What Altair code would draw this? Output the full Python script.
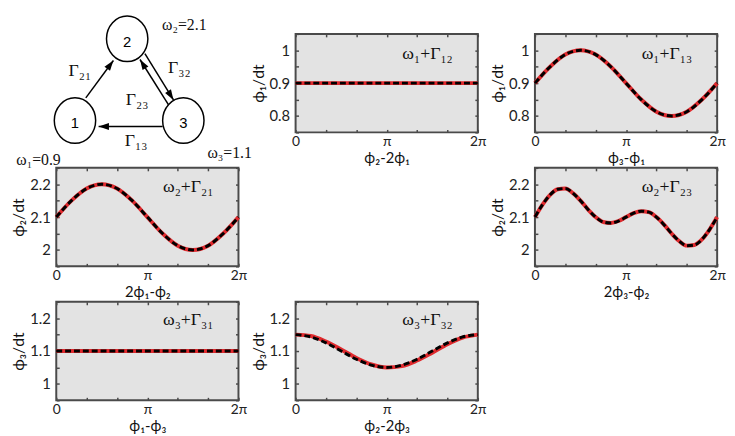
import math
import altair as alt
import pandas as pd

PI = math.pi

# ---------------- data ----------------
x2 = [0.0, 2 * PI]
x13 = [k * PI / 6 for k in range(13)]
x25 = [k * PI / 12 for k in range(25)]

a_red = [0.90, 0.90]
a_blk = [0.90, 0.90]
b_red = [0.900, 0.950, 0.987, 1.000, 0.987, 0.950, 0.900, 0.850, 0.813, 0.800, 0.813, 0.850, 0.900]
b_blk = [0.900, 0.950, 0.987, 1.000, 0.987, 0.950, 0.900, 0.850, 0.813, 0.800, 0.813, 0.850, 0.900]
c_red = [2.100, 2.150, 2.187, 2.200, 2.187, 2.150, 2.100, 2.050, 2.013, 2.000, 2.013, 2.050, 2.100]
c_blk = [2.100, 2.150, 2.187, 2.200, 2.187, 2.150, 2.100, 2.050, 2.013, 2.000, 2.013, 2.050, 2.100]
d_red = [2.100, 2.138, 2.168, 2.185, 2.187, 2.173, 2.150, 2.123, 2.100, 2.085, 2.082, 2.088, 2.100,
         2.112, 2.118, 2.115, 2.100, 2.077, 2.050, 2.027, 2.013, 2.015, 2.032, 2.062, 2.100]
d_blk = [2.100, 2.138, 2.168, 2.185, 2.187, 2.173, 2.150, 2.123, 2.100, 2.085, 2.082, 2.088, 2.100,
         2.112, 2.118, 2.115, 2.100, 2.077, 2.050, 2.027, 2.013, 2.015, 2.032, 2.062, 2.100]
e_red = [1.10, 1.10]
e_blk = [1.10, 1.10]
f_red = [1.150, 1.146, 1.129, 1.105, 1.079, 1.059, 1.050, 1.054, 1.071, 1.095, 1.121, 1.141, 1.150]
f_blk = [1.150, 1.143, 1.125, 1.100, 1.075, 1.057, 1.050, 1.057, 1.075, 1.100, 1.125, 1.143, 1.150]

notes = ["ω₁+Γ₁₂", "ω₁+Γ₁₃", "ω₂+Γ₂₁", "ω₂+Γ₂₃", "ω₃+Γ₃₁", "ω₃+Γ₃₂"]
note_y = [0.988, 0.988, 2.192, 2.190, 1.194, 1.194]
y_titles = ["ϕ₁/dt", "ϕ₁/dt", "ϕ₂/dt", "ϕ₂/dt", "ϕ₃/dt", "ϕ₃/dt"]
x_titles = ["ϕ₂-2ϕ₁", "ϕ₃-ϕ₁", "2ϕ₁-ϕ₂", "2ϕ₃-ϕ₂", "ϕ₁-ϕ₃", "ϕ₂-2ϕ₃"]
y_domains = [[0.75, 1.05], [0.75, 1.05], [1.95, 2.25], [1.95, 2.25], [0.95, 1.25], [0.95, 1.25]]

# network diagram (positions in picture pixels)
node_labels = ["1", "2", "3"]
node_x = [72, 125, 182]
node_y = [110, 27, 110]

arrow_x1 = [83, 143, 167, 161]
arrow_y1 = [87, 42, 94, 116]
arrow_x2 = [111, 172, 138, 96]
arrow_y2 = [49, 89, 48, 116]

gamma_labels = ["Γ₂₁", "Γ₃₂", "Γ₂₃", "Γ₁₃"]
gamma_x = [77, 178, 135, 134]
gamma_y = [60, 57, 89, 131]

omega_labels = ["ω₂=2.1", "ω₁=0.9", "ω₃=1.1"]
omega_x = [183, 35, 229]
omega_y = [13, 150, 143]

# ---------------- style ----------------
W, H = 185, 100
FRAME = "#4a4a4a"
BG = "#e3e3e3"
RED = "#e02a2e"
SANS = "Lato"
SERIF = "Liberation Serif"

XT = [k * PI / 3 for k in range(7)]
XLAB = ("abs(datum.value) < 0.01 ? '0' : abs(datum.value - PI) < 0.01 ? 'π' : "
        "abs(datum.value - 2 * PI) < 0.01 ? '2π' : ''")
YLAB = "abs(datum.value * 10 - round(datum.value * 10)) < 0.001 ? format(datum.value, '.1~f') : ''"

common = dict(offset=-3, tickSize=3, tickColor=FRAME, tickWidth=1.5, domain=False, grid=False,
              labelOverlap=False)


def ytick_values(dom):
    n = int(round((dom[1] - dom[0]) / 0.05))
    return [round(dom[0] + 0.05 * i, 2) for i in range(n + 1)]


def panel(i, xs_red, red, xs_blk, blk):
    xsc = alt.Scale(domain=[0, 2 * PI], nice=False, zero=False)
    ysc = alt.Scale(domain=y_domains[i], nice=False, zero=False)
    yv = ytick_values(y_domains[i])
    bottom = alt.Axis(orient="bottom", values=XT, labelExpr=XLAB, title=x_titles[i],
                      labelFont=SANS, labelFontSize=14, labelColor="#222", labelPadding=2,
                      labelFlush=False, titleFont=SANS, titleFontSize=15, titleFontWeight="normal",
                      titleColor="#111", titlePadding=3, **common)
    left = alt.Axis(orient="left", values=yv, labelExpr=YLAB, title=y_titles[i],
                    labelFont=SANS, labelFontSize=15, labelColor="#222", labelPadding=6,
                    titleFont=SANS, titleFontSize=16, titleFontWeight="normal",
                    titleColor="#111", titlePadding=3, **common)
    top = alt.Axis(orient="top", values=XT, labels=False, title=None, **common)
    right = alt.Axis(orient="right", values=yv, labels=False, title=None, **common)

    dred = pd.DataFrame({"x": xs_red, "y": red})
    dblk = pd.DataFrame({"x": xs_blk, "y": blk})
    dnote = pd.DataFrame({"x": [4.55], "y": [note_y[i]], "t": [notes[i]]})

    red_line = alt.Chart(dred).mark_line(color=RED, strokeWidth=4, interpolate="monotone").encode(
        x=alt.X("x:Q", scale=xsc, axis=bottom),
        y=alt.Y("y:Q", scale=ysc, axis=left),
    )
    blk_line = alt.Chart(dblk).mark_line(color="black", strokeWidth=3, strokeDash=[6, 3],
                                         interpolate="monotone").encode(
        x=alt.X("x:Q", scale=xsc, axis=top),
        y=alt.Y("y:Q", scale=ysc, axis=right),
    )
    note = alt.Chart(dnote).mark_text(font=SERIF, fontSize=18, color="#111",
                                      align="center", baseline="middle").encode(
        x=alt.X("x:Q", scale=xsc, axis=None),
        y=alt.Y("y:Q", scale=ysc, axis=None),
        text="t:N",
    )
    return alt.layer(red_line, blk_line, note).resolve_scale(
        x="independent", y="independent").properties(width=W, height=H)


clear_view = alt.ViewBackground(fill="transparent", stroke="transparent")

# ---------------- diagram ----------------
dxs = alt.Scale(domain=[53, 53 + W], nice=False, zero=False)
dys = alt.Scale(domain=[22, 22 + H], reverse=True, nice=False, zero=False)

nodes = pd.DataFrame({"x": node_x, "y": node_y, "t": node_labels,
                      "ty": [v + 3 for v in node_y]})
arrows = pd.DataFrame({"x1": arrow_x1, "y1": arrow_y1, "x2": arrow_x2, "y2": arrow_y2})
arrows["ang"] = [
    (math.degrees(math.atan2(bx - ax, -(by - ay))) + 360) % 360
    for ax, ay, bx, by in zip(arrow_x1, arrow_y1, arrow_x2, arrow_y2)
]
gammas = pd.DataFrame({"x": gamma_x, "y": gamma_y, "t": gamma_labels})
omegas = pd.DataFrame({"x": omega_x, "y": omega_y, "t": omega_labels})

ELLIPSE = "M -1 0 A 1 1.1 0 1 0 1 0 A 1 1.1 0 1 0 -1 0 Z"
HEAD = "M 0 0 L 0.5 1.5 L -0.5 1.5 Z"

ell = alt.Chart(nodes).mark_point(shape=ELLIPSE, size=1764, filled=False, color="black",
                                  strokeWidth=1.5, opacity=1).encode(
    x=alt.X("x:Q", scale=dxs, axis=None), y=alt.Y("y:Q", scale=dys, axis=None))
num = alt.Chart(nodes).mark_text(font="Liberation Sans", fontSize=15, color="black").encode(
    x=alt.X("x:Q", scale=dxs, axis=None), y=alt.Y("ty:Q", scale=dys, axis=None), text="t:N")
rules = alt.Chart(arrows).mark_rule(color="black", strokeWidth=1.5).encode(
    x=alt.X("x1:Q", scale=dxs, axis=None), y=alt.Y("y1:Q", scale=dys, axis=None),
    x2="x2:Q", y2="y2:Q")
heads = alt.Chart(arrows).mark_point(shape=HEAD, size=196, filled=True, color="black",
                                     opacity=1).encode(
    x=alt.X("x2:Q", scale=dxs, axis=None), y=alt.Y("y2:Q", scale=dys, axis=None),
    angle=alt.Angle("ang:Q", scale=None))
gtxt = alt.Chart(gammas).mark_text(font=SERIF, fontSize=18, color="#111").encode(
    x=alt.X("x:Q", scale=dxs, axis=None), y=alt.Y("y:Q", scale=dys, axis=None), text="t:N")
otxt = alt.Chart(omegas).mark_text(font=SERIF, fontSize=16, color="#111").encode(
    x=alt.X("x:Q", scale=dxs, axis=None), y=alt.Y("y:Q", scale=dys, axis=None), text="t:N")

diagram = alt.layer(rules, heads, ell, num, gtxt, otxt).properties(
    width=W, height=H, view=clear_view)


def blank():
    return alt.Chart(pd.DataFrame({"v": [0]})).mark_point(opacity=0).encode(
        x=alt.X("v:Q", axis=None), y=alt.Y("v:Q", axis=None)
    ).properties(width=W, height=H, view=clear_view)


pA = panel(0, x2, a_red, x2, a_blk)
pB = panel(1, x13, b_red, x13, b_blk)
pC = panel(2, x13, c_red, x13, c_blk)
pD = panel(3, x25, d_red, x25, d_blk)
pE = panel(4, x2, e_red, x2, e_blk)
pF = panel(5, x13, f_red, x13, f_blk)

chart = alt.concat(
    diagram, pA, pB,
    pC, blank(), pD,
    pE, pF, blank(),
    columns=3, spacing={"row": 36, "column": 58}, bounds="flush",
).configure_view(fill=BG, stroke=FRAME, strokeWidth=2).properties(
    padding={"left": 2, "top": 0, "right": 0, "bottom": 0}, background="white")

chart.save("out.html", embed_options={"renderer": "svg", "actions": False})
